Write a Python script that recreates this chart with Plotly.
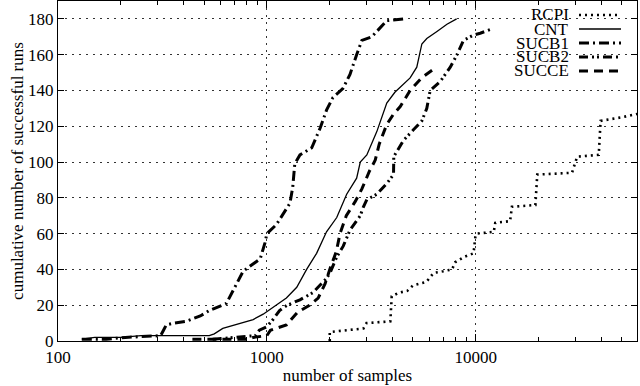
import plotly.graph_objects as go

# ---------------- data ----------------
rcpi_x = [2000, 2000, 2400, 2900, 3000, 3900, 3960, 4300, 4700, 5000, 5800, 6280, 7000, 7700, 7970,
          8800, 9760, 9950, 10100, 12200, 12400, 14600, 14900, 19300, 19700, 28900, 30000, 30600,
          38800, 39600, 50000, 60000]
rcpi_y = [0, 5, 6, 7, 10, 11, 25, 27, 28, 31, 33, 38, 39, 40, 44,
          47, 49, 58, 60, 61, 66, 67, 75, 76, 93, 94, 100, 103,
          104, 123, 125, 127]

cnt_x = [130, 150, 200, 250, 530, 560, 615, 740, 860, 960, 1070, 1240, 1390, 1550, 1730, 1930,
         2160, 2410, 2690, 2800, 3010, 3360, 3750, 4100, 4850, 5220, 5520, 5830, 6520, 7280, 8100]
cnt_y = [1, 2, 2, 3, 3, 4, 7, 10, 12, 15, 19, 24, 30, 40, 49, 61,
         69, 82, 91, 100, 104, 117, 133, 139, 147, 153, 166, 169, 173, 177, 180]

sucb1_x = [130, 170, 210, 280, 310, 320, 330, 360, 410, 480, 530, 640, 690, 720, 770, 930, 980,
           1000, 1110, 1290, 1330, 1360, 1440, 1640, 1730, 1800, 1930, 2070, 2310, 2500, 2690,
           2850, 3180, 3480, 3750, 4490]
sucb1_y = [1, 1, 2, 3, 3, 6, 9, 10, 11, 14, 17, 21, 28, 32, 39, 46, 55,
           60, 65, 77, 86, 99, 104, 108, 114, 119, 129, 136, 141, 149, 160,
           168, 170, 175, 179, 180]

sucb2_x = [550, 720, 880, 920, 1000, 1070, 1150, 1250, 1440, 1660, 1800, 1930, 2005, 2160, 2320,
           2500, 2800, 2900, 3010, 3360, 3750, 4040, 4050, 4200, 4500, 5030, 5520, 5830, 6050,
           6760, 7550, 8130, 8740, 9760, 10500, 11700]
sucb2_y = [1, 2, 3, 6, 8, 12, 17, 20, 23, 27, 31, 35, 38, 47, 53,
           62, 70, 75, 79, 82, 88, 93, 103, 106, 112, 118, 123, 130, 140,
           145, 153, 160, 168, 171, 172, 174]

succe_x = [440, 800, 860, 1000, 1040, 1240, 1400, 1600, 1760, 1900, 2000, 2150, 2240, 2400,
           2650, 2850, 3100, 3300, 3450, 3750, 4050, 4350, 4850, 5500, 6300, 6500]
succe_y = [1, 1, 2, 3, 6, 9, 16, 20, 24, 32, 40, 50, 60, 70,
           78, 85, 95, 101, 110, 121, 127, 131, 140, 147, 152, 153]

series_names = ["RCPI", "CNT", "SUCB1", "SUCB2", "SUCCE"]

x_tickvals = [100, 1000, 10000]
x_ticktext = ["100", "1000", "10000"]
x_minor = [200, 300, 400, 500, 600, 700, 800, 900,
           2000, 3000, 4000, 5000, 6000, 7000, 8000, 9000,
           20000, 30000, 40000, 50000]
y_tickvals = [0, 20, 40, 60, 80, 100, 120, 140, 160, 180]

# ---------------- styles ----------------
FONT = "Liberation Serif"
styles = {
    "RCPI": dict(width=2.6, dash="2px,4px"),
    "CNT": dict(width=1.3, dash="solid"),
    "SUCB1": dict(width=3, dash="10px,4px,2px,4px"),
    "SUCB2": dict(width=3, dash="9px,4px,2px,3px,2px,4px"),
    "SUCCE": dict(width=3, dash="9px,6px"),
}
data = {
    "RCPI": (rcpi_x, rcpi_y),
    "CNT": (cnt_x, cnt_y),
    "SUCB1": (sucb1_x, sucb1_y),
    "SUCB2": (sucb2_x, sucb2_y),
    "SUCCE": (succe_x, succe_y),
}

fig = go.Figure()
for name in series_names:
    xs, ys = data[name]
    st = styles[name]
    fig.add_trace(go.Scatter(x=xs, y=ys, mode="lines", name=name,
                             line=dict(color="black", width=st["width"], dash=st["dash"]),
                             showlegend=False))

L, R, T, B = 58, 3, 1, 45
W, H = 640, 386
pw, ph = W - L - R, H - T - B

def px_x(p):
    return (p - L) / pw

def px_y(p):
    return 1 - (p - T) / ph

grid = dict(showgrid=True, gridcolor="#333", gridwidth=1, griddash="2px,5px")

fig.update_layout(
    width=W, height=H,
    margin=dict(l=L, r=R, t=T, b=B, autoexpand=False),
    paper_bgcolor="white", plot_bgcolor="white",
    font=dict(family=FONT, size=17, color="black"),
    xaxis=dict(type="log", range=[2, 4.772], tickvals=x_tickvals, ticktext=x_ticktext,
               ticks="inside", ticklen=7, tickcolor="black", tickwidth=1,
               showline=True, linecolor="black", linewidth=1.2, mirror="ticks",
               minor=dict(tickvals=x_minor, ticks="inside", ticklen=4, tickcolor="black",
                          showgrid=False),
               title=dict(text="number of samples", font=dict(size=17), standoff=0),
               automargin=False, zeroline=False, **grid),
    yaxis=dict(range=[0, 190], tickvals=y_tickvals,
               ticks="inside", ticklen=6, tickcolor="black", tickwidth=1,
               showline=True, linecolor="black", linewidth=1.2, mirror="ticks",
               title=dict(text="cumulative number of successful runs", font=dict(size=17),
                          standoff=0),
               automargin=False, zeroline=False, **grid),
)

# legend (gnuplot style: text right-aligned, sample on the right, opaque box)
fig.add_shape(type="rect", xref="paper", yref="paper",
              x0=px_x(514), x1=1, y0=px_y(80), y1=1,
              fillcolor="white", line=dict(width=0), layer="between")
rows = [15, 29, 43, 57, 71]
for name, py in zip(series_names, rows):
    st = styles[name]
    fig.add_annotation(xref="paper", yref="paper", x=px_x(571), y=px_y(py),
                       text=name, showarrow=False, xanchor="right", yanchor="middle",
                       font=dict(family=FONT, size=17, color="black"))
    fig.add_shape(type="line", xref="paper", yref="paper",
                  x0=px_x(579), x1=px_x(621), y0=px_y(py), y1=px_y(py),
                  line=dict(color="black", width=st["width"], dash=st["dash"]), layer="above")

fig.write_html("out.html", config={"displayModeBar": False},
               post_script="document.body.style.margin='0';document.body.style.overflow='hidden';")
